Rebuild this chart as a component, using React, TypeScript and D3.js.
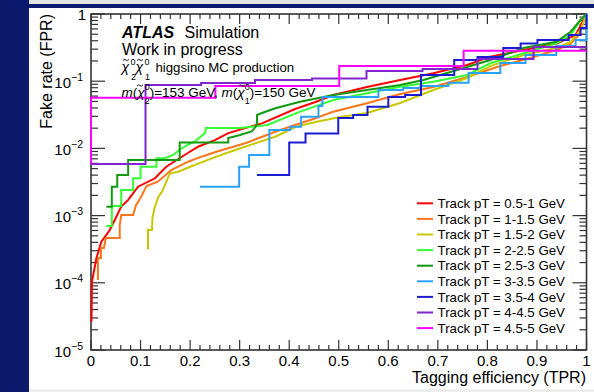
import React from "react";
import * as d3 from "d3";

const W = 594;
const H = 392;

// Axis ticks
const xMajorTicks = [0, 0.1, 0.2, 0.3, 0.4, 0.5, 0.6, 0.7, 0.8, 0.9, 1];
const xTickLabels = ["0", "0.1", "0.2", "0.3", "0.4", "0.5", "0.6", "0.7", "0.8", "0.9", "1"];
const yDecades = [1e-5, 1e-4, 1e-3, 1e-2, 1e-1, 1];
const yTickExponents = ["−5", "−4", "−3", "−2", "−1", ""];

// Series: [TPR, FPR]
const pt05_1: [number, number][] = [
  [0.001, 2.64e-5], [0.002, 1.04e-4], [0.011, 2.34e-4], [0.021, 4.09e-4], [0.038, 6.11e-4],
  [0.048, 8.6e-4], [0.061, 1.36e-3], [0.075, 1.71e-3], [0.095, 2.69e-3], [0.129, 3.59e-3],
  [0.152, 5.34e-3], [0.189, 7.98e-3], [0.216, 0.0106], [0.25, 0.0133], [0.277, 0.0169],
  [0.345, 0.0236], [0.412, 0.0386], [0.453, 0.049], [0.489, 0.0623], [0.557, 0.082],
  [0.624, 0.104], [0.691, 0.131], [0.759, 0.174], [0.806, 0.232], [0.873, 0.291],
  [0.941, 0.366], [0.978, 0.487], [0.994, 0.814], [1, 1],
];
const pt1_15: [number, number][] = [
  [0.014, 1.1e-4], [0.014, 2.34e-4], [0.02, 2.34e-4], [0.02, 3.3e-4], [0.026, 3.3e-4],
  [0.03, 4.65e-4], [0.058, 4.65e-4], [0.058, 7.25e-4], [0.061, 1.02e-3], [0.085, 1.02e-3],
  [0.091, 1.44e-3], [0.101, 1.89e-3], [0.112, 2.76e-3], [0.135, 3.19e-3], [0.162, 4.77e-3],
  [0.196, 6.34e-3], [0.223, 7.53e-3], [0.253, 8.93e-3], [0.311, 0.0119], [0.372, 0.0177],
  [0.412, 0.0223], [0.453, 0.0281], [0.489, 0.0352], [0.557, 0.0469], [0.624, 0.0645],
  [0.691, 0.082], [0.759, 0.1155], [0.826, 0.168], [0.893, 0.229], [0.939, 0.291],
  [0.968, 0.358], [0.984, 0.487], [0.996, 0.814], [1, 1],
];
const pt15_2: [number, number][] = [
  [0.115, 3.15e-4], [0.115, 6.11e-4], [0.123, 6.11e-4], [0.124, 9.2e-4], [0.128, 1.3e-3],
  [0.136, 1.89e-3], [0.145, 2.4e-3], [0.149, 2.85e-3], [0.159, 4.26e-3], [0.176, 4.5e-3],
  [0.209, 5.66e-3], [0.253, 7.53e-3], [0.291, 9.46e-3], [0.331, 0.0119], [0.372, 0.0149],
  [0.412, 0.0208], [0.453, 0.0247], [0.503, 0.0293], [0.557, 0.0336], [0.624, 0.0474],
  [0.691, 0.074], [0.759, 0.1116], [0.806, 0.168], [0.873, 0.245], [0.939, 0.312],
  [0.968, 0.383], [0.988, 0.578], [1, 1],
];
const pt2_25: [number, number][] = [
  [0.031, 7.0e-4], [0.042, 7.0e-4], [0.042, 1.39e-3], [0.061, 1.39e-3], [0.061, 2.4e-3],
  [0.085, 2.4e-3], [0.085, 3.59e-3], [0.1, 3.59e-3], [0.1, 5.34e-3], [0.132, 5.34e-3],
  [0.132, 7.13e-3], [0.149, 7.13e-3], [0.166, 7.98e-3], [0.178, 9.46e-3], [0.194, 0.0112],
  [0.209, 0.0126], [0.23, 0.0169], [0.232, 0.0201], [0.301, 0.0201], [0.356, 0.0223],
  [0.422, 0.0352], [0.489, 0.0525], [0.557, 0.0661], [0.624, 0.0828], [0.691, 0.0984],
  [0.759, 0.124], [0.806, 0.185], [0.873, 0.26], [0.939, 0.366], [0.968, 0.487],
  [0.988, 0.814], [1, 1],
];
const pt25_3: [number, number][] = [
  [0.031, 1.36e-3], [0.042, 1.36e-3], [0.042, 2.69e-3], [0.053, 2.69e-3], [0.053, 4.02e-3],
  [0.075, 4.02e-3], [0.075, 6.72e-3], [0.179, 6.72e-3], [0.179, 0.0122], [0.277, 0.0122],
  [0.277, 0.0143], [0.301, 0.0158], [0.325, 0.0181], [0.335, 0.0223], [0.335, 0.0314],
  [0.345, 0.0336], [0.372, 0.0395], [0.422, 0.0495], [0.489, 0.0623], [0.557, 0.074],
  [0.624, 0.0878], [0.671, 0.104], [0.739, 0.147], [0.806, 0.207], [0.873, 0.312],
  [0.939, 0.387], [0.968, 0.545], [0.988, 0.814], [1, 1],
];
const pt3_35: [number, number][] = [
  [0.22, 2.69e-3], [0.299, 5.34e-3], [0.319, 7.98e-3], [0.36, 0.0188], [0.402, 0.021],
  [0.424, 0.0296], [0.459, 0.0428], [0.467, 0.0582], [0.58, 0.074], [0.63, 0.0792],
  [0.665, 0.0849], [0.721, 0.095], [0.762, 0.132], [0.826, 0.187], [0.877, 0.245],
  [0.939, 0.334], [0.978, 0.41], [1, 1],
];
const pt35_4: [number, number][] = [
  [0.335, 4.02e-3], [0.4, 0.0122], [0.433, 0.0167], [0.499, 0.0283], [0.529, 0.0314],
  [0.558, 0.0418], [0.6, 0.0582], [0.634, 0.0623], [0.666, 0.124], [0.733, 0.207],
  [0.78, 0.229], [0.832, 0.312], [0.867, 0.364], [0.901, 0.41], [0.964, 0.487],
  [0.988, 0.619], [1, 1],
];
const pt4_45: [number, number][] = [
  [0, 5.86e-3], [0.11, 0.0878], [0.222, 0.094], [0.331, 0.104], [0.446, 0.11],
  [0.556, 0.142], [0.669, 0.152], [0.78, 0.214], [0.893, 0.323], [1, 0.323],
];
const pt45_5: [number, number][] = [
  [0, 5.86e-3], [0, 0.0568], [0.251, 0.0849], [0.501, 0.168], [0.752, 0.284], [1, 0.284],
];

const seriesLabels = [
  "Track pT = 0.5-1 GeV", "Track pT = 1-1.5 GeV", "Track pT = 1.5-2 GeV",
  "Track pT = 2-2.5 GeV", "Track pT = 2.5-3 GeV", "Track pT = 3-3.5 GeV",
  "Track pT = 3.5-4 GeV", "Track pT = 4-4.5 GeV", "Track pT = 4.5-5 GeV",
];
const seriesData = [pt05_1, pt1_15, pt15_2, pt2_25, pt25_3, pt3_35, pt35_4, pt4_45, pt45_5];
const seriesColors = ["#ff0000", "#ff7519", "#c8c800", "#33ff33", "#129912", "#29a3ff", "#1c1cd2", "#8126cf", "#ff00ff"];
const seriesStepped = [false, false, false, false, false, true, true, true, true];

const FONT = "'Liberation Sans', Arial, Helvetica, sans-serif";

function tildePath(x0: number, y0: number) {
  return `M${x0},${y0 + 0.6} q1.5,-2.2 3,-0.6 t3,-0.6`;
}

export default function App() {
  const L = 91, R = 586.5, T = 14, B = 350;
  const x = d3.scaleLinear().domain([0, 1]).range([L, R]);
  const y = d3.scaleLog().domain([1e-5, 1]).range([B, T]);

  const xMinor = d3.range(0, 51).map((i) => i / 50);
  const yMinor: number[] = [];
  for (let d = -5; d < 0; d++) for (let k = 2; k <= 9; k++) yMinor.push(k * Math.pow(10, d));

  const axisColor = "#333";
  const tickLines: JSX.Element[] = [];
  xMinor.forEach((v, i) => {
    const len = i % 5 === 0 ? 10 : 5;
    const px = x(v);
    tickLines.push(<line key={"xb" + i} x1={px} x2={px} y1={B} y2={B - len} />);
    tickLines.push(<line key={"xt" + i} x1={px} x2={px} y1={T} y2={T + len} />);
  });
  yDecades.forEach((v, i) => {
    const py = y(v);
    tickLines.push(<line key={"yl" + i} x1={L} x2={L + 14} y1={py} y2={py} />);
    tickLines.push(<line key={"yr" + i} x1={R} x2={R - 14} y1={py} y2={py} />);
  });
  yMinor.forEach((v, i) => {
    const py = y(v);
    tickLines.push(<line key={"yml" + i} x1={L} x2={L + 7} y1={py} y2={py} />);
    tickLines.push(<line key={"ymr" + i} x1={R} x2={R - 7} y1={py} y2={py} />);
  });

  const legendX = 417;
  const legendY0 = 203.3;
  const legendDy = 15.6;

  return (
    <svg width={W} height={H} style={{ position: "absolute", left: 0, top: 0, fontFamily: FONT }}>
      <defs>
        <clipPath id="plotclip">
          <rect x={L - 1.5} y={T - 1.5} width={R - L + 3} height={B - T + 3} />
        </clipPath>
      </defs>
      <rect x={0} y={0} width={W} height={H} fill="#ffffff" />
      <rect x={29} y={0} width={W - 29} height={4} fill="#e2e2e2" />
      <rect x={29} y={4} width={W - 29} height={4} fill="#0b1a6c" />
      <rect x={29} y={389} width={W - 29} height={3} fill="#eeeeee" />
      <rect x={0} y={0} width={29} height={H} fill="#0b1a6c" />

      {/* frame and ticks */}
      <rect x={L} y={T} width={R - L} height={B - T} fill="none" stroke={axisColor} strokeWidth={1.6} />
      <g stroke={axisColor} strokeWidth={1.2}>{tickLines}</g>

      {/* x tick labels */}
      {xMajorTicks.map((v, i) => (
        <text key={"xl" + i} x={x(v)} y={365.5} fontSize={15} textAnchor="middle" fill="#000">
          {xTickLabels[i]}
        </text>
      ))}
      {/* y tick labels */}
      {yDecades.map((v, i) =>
        yTickExponents[i] === "" ? (
          <text key={"ylab" + i} x={86} y={y(v) + 6} fontSize={15} textAnchor="end" fill="#000">1</text>
        ) : (
          <text key={"ylab" + i} x={83} y={y(v) + 6.5} fontSize={15} textAnchor="end" fill="#000">
            10<tspan dy={-7} fontSize={10.5}>{yTickExponents[i]}</tspan>
          </text>
        )
      )}

      {/* axis titles */}
      <text transform="translate(52,14) rotate(-90)" fontSize={16} textAnchor="end" fill="#000">Fake rate (FPR)</text>
      <text x={586} y={383} fontSize={16} textAnchor="end" fill="#000">Tagging efficiency (TPR)</text>

      {/* curves */}
      <g clipPath="url(#plotclip)" fill="none">
        {seriesData.map((data, i) => {
          const gen = d3
            .line<[number, number]>()
            .x((d) => x(d[0]))
            .y((d) => y(d[1]))
            .curve(seriesStepped[i] ? d3.curveStepAfter : d3.curveLinear);
          return <path key={"s" + i} d={gen(data) || ""} stroke={seriesColors[i]} strokeWidth={2} strokeLinejoin="miter" />;
        })}
      </g>

      {/* ATLAS label */}
      <text x={122} y={37.5} fontSize={16} fill="#000">
        <tspan fontWeight="bold" fontStyle="italic">ATLAS</tspan>
        <tspan x={184.5}>Simulation</tspan>
      </text>
      <text x={122} y={55} fontSize={16} fill="#000">Work in progress</text>

      {/* tildes */}
      <g fill="none" stroke="#000" strokeWidth={0.9}>
        <path d={tildePath(123, 60)} />
        <path d={tildePath(137, 60)} />
        <path d={tildePath(137, 85.5)} />
        <path d={tildePath(238.5, 85.5)} />
      </g>
      {/* process line */}
      <text x={121.5} y={72} fontSize={14} fill="#000">
        <tspan fontStyle="italic">χ</tspan>
        <tspan x={130.5} dy={-7} fontSize={9}>0</tspan>
        <tspan x={131} dy={14.5} fontSize={9}>2</tspan>
        <tspan x={135.5} dy={-7.5} fontStyle="italic">χ</tspan>
        <tspan x={144.5} dy={-7} fontSize={9}>0</tspan>
        <tspan x={145} dy={14.5} fontSize={9}>1</tspan>
        <tspan x={155.5} dy={-7.5} fontSize={13.2}>higgsino MC production</tspan>
      </text>

      {/* mass line */}
      <text x={121.5} y={97} fontSize={13.5} fill="#000">
        <tspan fontStyle="italic">m</tspan>
        <tspan>(</tspan>
        <tspan fontStyle="italic">χ</tspan>
        <tspan dy={-7} fontSize={9}>0</tspan>
        <tspan dx={-5} dy={14} fontSize={9}>2</tspan>
        <tspan dy={-7}>)=153 GeV, </tspan>
        <tspan fontStyle="italic">m</tspan>
        <tspan>(</tspan>
        <tspan fontStyle="italic">χ</tspan>
        <tspan dy={-7} fontSize={9}>0</tspan>
        <tspan dx={-5} dy={14} fontSize={9}>1</tspan>
        <tspan dy={-7}>)=150 GeV</tspan>
      </text>

      {/* legend */}
      {seriesLabels.map((lab, i) => {
        const cy = legendY0 + i * legendDy;
        return (
          <g key={"lg" + i}>
            <line x1={legendX} x2={legendX + 16} y1={cy} y2={cy} stroke={seriesColors[i]} strokeWidth={2} />
            <text x={legendX + 20.5} y={cy + 4.7} fontSize={13.3} fill="#000">{lab}</text>
          </g>
        );
      })}
    </svg>
  );
}
